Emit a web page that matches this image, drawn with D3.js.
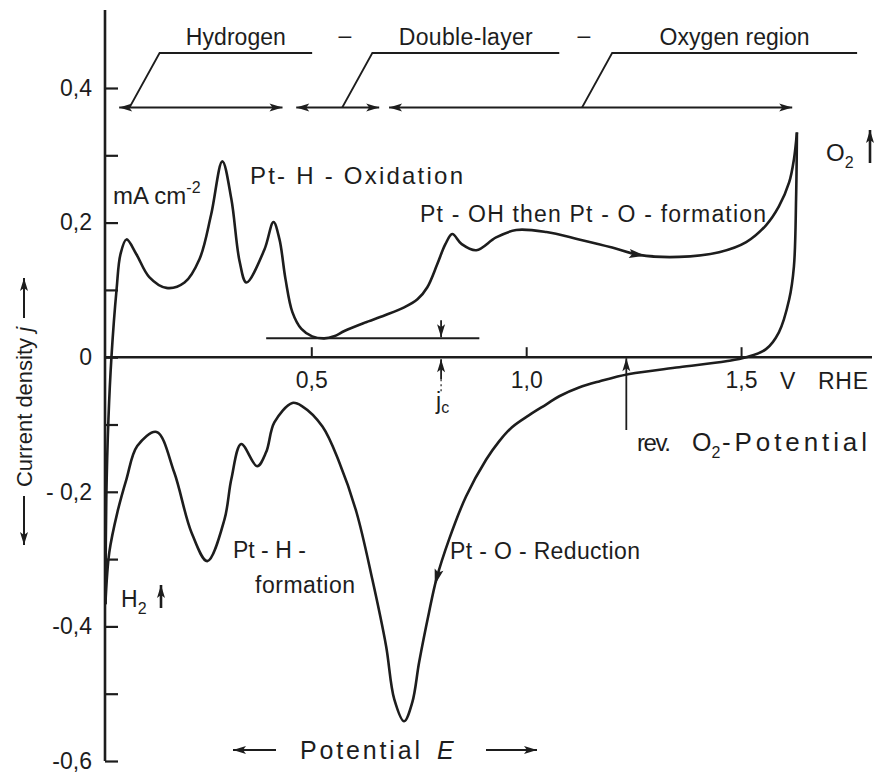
<!DOCTYPE html>
<html>
<head>
<meta charset="utf-8">
<script src="https://cdn.jsdelivr.net/npm/d3@7/dist/d3.min.js"></script>
<style>
  body { margin: 0; background: #fff; }
  svg { display: block; font-family: "Liberation Sans", Arial, sans-serif; }
  text { fill: #1d1d1d; }
</style>
</head>
<body>
<div id="chart"></div>
<script>
// Cyclic voltammogram of Pt, E in V (RHE), j in mA cm-2
// anodic sweep, from the H2 end up to the O2 end
const anodicE = [0.021, 0.023, 0.028, 0.035, 0.047, 0.056, 0.070, 0.093, 0.123, 0.163, 0.205, 0.240, 0.267, 0.293,
    0.314, 0.333, 0.349, 0.391, 0.412, 0.426, 0.440, 0.456, 0.477, 0.502, 0.530, 0.553, 0.577, 0.623, 0.670,
    0.716, 0.747, 0.770, 0.793, 0.812, 0.828, 0.850, 0.884, 0.930, 0.977, 1.047, 1.123, 1.200, 1.263, 1.356,
    1.449, 1.512, 1.558, 1.588, 1.612, 1.623, 1.630];
const anodicJ = [-0.367, -0.211, -0.092, 0.000, 0.101, 0.153, 0.175, 0.153, 0.119, 0.103, 0.111, 0.146, 0.212, 0.291,
    0.235, 0.143, 0.111, 0.160, 0.201, 0.175, 0.116, 0.067, 0.042, 0.031, 0.028, 0.031, 0.039, 0.051, 0.062,
    0.074, 0.086, 0.104, 0.138, 0.168, 0.183, 0.168, 0.159, 0.178, 0.189, 0.186, 0.175, 0.163, 0.152, 0.149,
    0.156, 0.171, 0.196, 0.224, 0.260, 0.294, 0.334];

// cathodic sweep, back from the O2 end to the H2 end
const cathodicE = [1.630, 1.628, 1.623, 1.612, 1.588, 1.558, 1.512, 1.465, 1.356, 1.240, 1.170, 1.123, 1.077, 1.047,
    1.007, 0.967, 0.937, 0.907, 0.860, 0.821, 0.791, 0.774, 0.751, 0.735, 0.716, 0.693, 0.674, 0.642, 0.605, 0.565,
    0.526, 0.479, 0.456, 0.414, 0.395, 0.374, 0.337, 0.314, 0.298, 0.258, 0.221, 0.181, 0.140, 0.095, 0.070, 0.049,
    0.030, 0.021];
const cathodicJ = [0.334, 0.235, 0.135, 0.086, 0.037, 0.012, 0.000, -0.006, -0.015, -0.025, -0.036, -0.045, -0.058, -0.070,
    -0.086, -0.104, -0.125, -0.152, -0.207, -0.270, -0.330, -0.379, -0.453, -0.513, -0.541, -0.508, -0.429, -0.330, -0.230, -0.156,
    -0.103, -0.073, -0.068, -0.097, -0.141, -0.162, -0.129, -0.181, -0.241, -0.303, -0.260, -0.171, -0.111, -0.132, -0.181, -0.230,
    -0.290, -0.367];

const yTicks = [-0.6, -0.5, -0.4, -0.3, -0.2, -0.1, 0, 0.1, 0.2, 0.3, 0.4];
const yLabelValues = [-0.6, -0.4, -0.2, 0, 0.2, 0.4];
const yLabelText = ['-0,6', '-0,4', '- 0,2', '0', '0,2', '0,4'];
const xTicks = [0.5, 1.0, 1.5];
const xTickLabels = ['0,5', '1,0', '1,5'];

// potential regions above the plot
const regionNames = ['Hydrogen', 'Double-layer', 'Oxygen region'];
const regionFrom = [0.053, 0.465, 0.681];
const regionTo = [0.433, 0.658, 1.619];
const leaderFoot = [0.077, 0.572, 1.130];
const leaderKnee = [0.147, 0.642, 1.200];
const leaderEnd = [0.502, 1.077, 1.770];

// double-layer baseline and j_c marker
const baselineJ = 0.028;
const baselineFrom = 0.395;
const baselineTo = 0.891;
const jcE = 0.802;
const revO2E = 1.233;

const width = 880, height = 773;
const ink = '#1d1d1d';
const fs = 23;

const svg = d3.select('#chart').append('svg')
    .attr('width', width)
    .attr('height', height);

const x = d3.scaleLinear().domain([0.02, 1.8]).range([105, 870]);
const y = d3.scaleLinear().domain([-0.6, 0.4]).range([761, 88]);

function arrowHead(g, px, py, angle, len = 13, half = 4) {
    // filled triangle, tip at (px, py), pointing along angle (deg)
    g.append('path')
        .attr('d', `M0,0 L${-len},${-half} L${-len + 3},0 L${-len},${half} Z`)
        .attr('transform', `translate(${px},${py}) rotate(${angle})`)
        .attr('fill', ink);
}

function arrowLine(g, x1, y1, x2, y2, sw = 1.8) {
    g.append('line')
        .attr('x1', x1).attr('y1', y1).attr('x2', x2).attr('y2', y2)
        .attr('stroke', ink).attr('stroke-width', sw);
    const a = Math.atan2(y2 - y1, x2 - x1) * 180 / Math.PI;
    arrowHead(g, x2, y2, a);
}

// plain label, spaced out to the width it has in the figure
function label(g, px, py, str, w, size = fs) {
    const t = g.append('text').attr('x', px).attr('y', py).attr('font-size', size).text(str);
    if (w) t.attr('textLength', w).attr('lengthAdjust', 'spacing');
    return t;
}

// Y axis
const yAxis = d3.axisLeft(y)
    .tickValues(yTicks)
    .tickSizeInner(-13)
    .tickSizeOuter(0)
    .tickPadding(13)
    .tickFormat(d => {
        const i = yLabelValues.findIndex(v => Math.abs(v - d) < 1e-9);
        return i >= 0 ? yLabelText[i] : '';
    });

const gy = svg.append('g')
    .attr('transform', `translate(${x(0.02)},0)`)
    .call(yAxis);
gy.select('.domain').remove();
gy.selectAll('line').attr('stroke', ink).attr('stroke-width', 2.2);
gy.selectAll('text').attr('font-size', fs).attr('fill', ink);
gy.append('line')
    .attr('x1', 0).attr('x2', 0)
    .attr('y1', 10).attr('y2', y(-0.6))
    .attr('stroke', ink).attr('stroke-width', 2.6);

// X axis through zero
const xAxis = d3.axisBottom(x)
    .tickValues(xTicks)
    .tickSizeInner(-10)
    .tickSizeOuter(0)
    .tickPadding(14)
    .tickFormat((d, i) => xTickLabels[i]);

const gx = svg.append('g')
    .attr('transform', `translate(0,${y(0)})`)
    .call(xAxis);
gx.select('.domain').remove();
gx.selectAll('line').attr('stroke', ink).attr('stroke-width', 2);
gx.selectAll('text').attr('font-size', fs).attr('fill', ink);
gx.append('line')
    .attr('x1', x(0.02)).attr('x2', 872)
    .attr('stroke', ink).attr('stroke-width', 2.6);

label(svg, 780, 389, 'V');
label(svg, 818, 389, 'RHE', 50);

// voltammogram
const line = d3.line()
    .x(d => x(d[0]))
    .y(d => y(d[1]))
    .curve(d3.curveCatmullRom.alpha(0.5));

const anodic = anodicE.map((e, i) => [e, anodicJ[i]]);
const cathodic = cathodicE.map((e, i) => [e, cathodicJ[i]]);

svg.append('path')
    .datum(anodic)
    .attr('d', line)
    .attr('fill', 'none')
    .attr('stroke', ink)
    .attr('stroke-width', 2.6);

svg.append('path')
    .datum(cathodic)
    .attr('d', line)
    .attr('fill', 'none')
    .attr('stroke', ink)
    .attr('stroke-width', 2.6);

// direction arrows on the curve
const curveG = svg.append('g');
function curveArrow(pts, i) {
    const a = pts[i - 1], b = pts[i + 1];
    const ang = Math.atan2(y(b[1]) - y(a[1]), x(b[0]) - x(a[0])) * 180 / Math.PI;
    arrowHead(curveG, x(pts[i][0]) + 6 * Math.cos(ang * Math.PI / 180),
        y(pts[i][1]) + 6 * Math.sin(ang * Math.PI / 180), ang, 16, 4.5);
}
curveArrow(anodic, 42);
curveArrow(cathodic, 20);

// double-layer baseline and j_c
const ann = svg.append('g');
ann.append('line')
    .attr('x1', x(baselineFrom)).attr('x2', x(baselineTo))
    .attr('y1', y(baselineJ)).attr('y2', y(baselineJ))
    .attr('stroke', ink).attr('stroke-width', 2);
arrowLine(ann, x(jcE), y(baselineJ) - 18, x(jcE), y(baselineJ) - 1, 1.8);
arrowLine(ann, x(jcE), y(0) + 22, x(jcE), y(0) + 2, 1.8);
ann.append('line')
    .attr('x1', x(jcE)).attr('x2', x(jcE))
    .attr('y1', y(0) + 22).attr('y2', y(0) + 34)
    .attr('stroke', ink).attr('stroke-width', 1.2)
    .attr('stroke-dasharray', '2,3');
const jc = ann.append('text').attr('x', x(jcE) - 5).attr('y', 409).attr('font-size', fs);
jc.append('tspan').text('j');
jc.append('tspan').attr('font-size', 16).attr('dy', 4).text('c');

// reversible O2 potential
arrowLine(ann, x(revO2E), 430, x(revO2E), y(0) + 1, 1.8);
label(ann, 637, 451, 'rev.', 34, 24);
const rev = ann.append('text').attr('x', 692).attr('y', 451).attr('font-size', 25);
rev.append('tspan').text('O');
rev.append('tspan').attr('font-size', 16).attr('dy', 7).text('2');
label(ann, 722, 451, '-Potential', 145, 26);

// potential regions
const reg = svg.append('g');
const yReg = y(0.371), yLeader = y(0.452);
const regionWidths = [100, 134, 150];
regionNames.forEach((name, i) => {
    reg.append('polyline')
        .attr('points', [[x(leaderFoot[i]), yReg], [x(leaderKnee[i]), yLeader], [x(leaderEnd[i]), yLeader]].join(' '))
        .attr('fill', 'none').attr('stroke', ink).attr('stroke-width', 1.8);
    reg.append('line')
        .attr('x1', x(regionFrom[i])).attr('x2', x(regionTo[i]))
        .attr('y1', yReg).attr('y2', yReg)
        .attr('stroke', ink).attr('stroke-width', 1.8);
    arrowHead(reg, x(regionFrom[i]), yReg, 180);
    arrowHead(reg, x(regionTo[i]), yReg, 0);
    const cx = (x(leaderKnee[i]) + x(leaderEnd[i])) / 2;
    label(reg, cx - regionWidths[i] / 2, 45, name, regionWidths[i]);
});
reg.append('text').attr('x', 345).attr('y', 43).attr('text-anchor', 'middle').attr('font-size', fs).text('–');
reg.append('text').attr('x', 584).attr('y', 43).attr('text-anchor', 'middle').attr('font-size', fs).text('–');

// curve labels
const lab = svg.append('g');
const ma = lab.append('text').attr('x', 113).attr('y', 204).attr('font-size', 24);
ma.append('tspan').text('mA cm');
ma.append('tspan').attr('font-size', 16).attr('dy', -11).text('-2');

label(lab, 250, 184, 'Pt- H - Oxidation', 213, 24);
label(lab, 420, 222, 'Pt - OH  then  Pt - O - formation', 346);

const o2 = lab.append('text').attr('x', 826).attr('y', 161).attr('font-size', 24);
o2.append('tspan').text('O');
o2.append('tspan').attr('font-size', 16).attr('dy', 7).text('2');
arrowLine(lab, 870, 163, 870, 130, 2.6);

const h2 = lab.append('text').attr('x', 121).attr('y', 607).attr('font-size', fs);
h2.append('tspan').text('H');
h2.append('tspan').attr('font-size', 16).attr('dy', 7).text('2');
arrowLine(lab, 161, 608, 161, 585, 2.6);

label(lab, 233, 558, 'Pt - H -');
label(lab, 255, 593, 'formation', 100);
label(lab, 450, 559, 'Pt - O - Reduction', 190);

// axis titles
const pot = svg.append('g');
arrowLine(pot, 276, 750, 233, 750, 2);
arrowLine(pot, 486, 750, 537, 750, 2);
label(pot, 300, 759, 'Potential', 120, 25);
pot.append('text').attr('x', 437).attr('y', 759).attr('font-size', 25)
    .attr('font-style', 'italic').text('E');

const cd = svg.append('g');
arrowLine(cd, 24, 318, 24, 278, 2);
arrowLine(cd, 24, 496, 24, 545, 2);
const ct = cd.append('text')
    .attr('transform', 'translate(32,407) rotate(-90)')
    .attr('text-anchor', 'middle')
    .attr('font-size', 22);
ct.append('tspan').text('Current density ');
ct.append('tspan').attr('font-style', 'italic').text('j');
</script>
</body>
</html>
